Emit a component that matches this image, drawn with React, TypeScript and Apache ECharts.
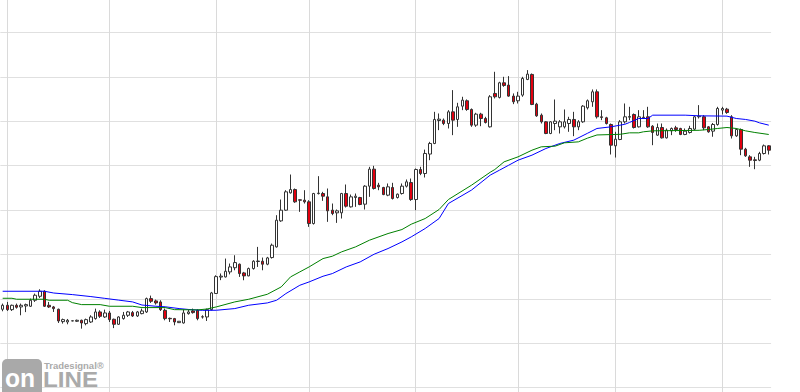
import React, { useEffect, useRef } from "react";
import * as echarts from "echarts";

// ---- data ----
const open = [
  27.64, 28.54, 27.56, 28.54, 28.17, 28.39, 28.32, 29.67, 30.57, 31.70,
  28.54, 28.17, 27.64, 24.86, 24.78, 25.01, 24.94, 25.16, 24.41, 24.78,
  25.54, 27.04, 25.91, 26.81, 25.39, 24.26, 25.54, 26.29, 26.89, 26.14,
  26.66, 27.04, 30.04, 29.52, 29.29, 27.41, 25.60, 25.54, 24.63, 24.56,
  26.66, 27.26, 27.41, 25.95, 25.91, 27.56, 31.20, 34.90, 34.93, 36.06,
  37.00, 37.79, 35.83, 35.16, 36.81, 38.40, 38.46, 37.79, 39.29, 41.69,
  47.55, 49.96, 53.86, 54.61, 52.30, 52.21, 51.84, 46.95, 53.70, 53.71,
  52.96, 49.96, 49.36, 49.36, 53.71, 50.71, 52.81, 52.81, 51.31, 55.37,
  59.20, 55.59, 55.07, 53.34, 55.07, 52.81, 53.71, 55.37, 56.19, 52.36,
  59.12, 58.22, 62.60, 64.98, 70.16, 70.24, 69.48, 72.11, 70.39, 73.39,
  74.60, 72.64, 69.11, 71.59, 70.61, 68.73, 76.25, 75.35, 78.65, 78.13,
  75.65, 74.60, 75.87, 79.40, 80.53, 73.84, 71.36, 69.86, 67.23, 69.48,
  68.73, 68.73, 69.48, 70.39, 68.73, 69.86, 73.02, 74.37, 76.62, 70.99,
  70.76, 69.26, 64.45, 65.88, 69.86, 70.90, 71.51, 68.73, 70.90, 70.99,
  68.88, 66.86, 68.58, 66.25, 67.83, 68.51, 68.36, 67.01, 67.46, 68.21,
  71.00, 70.99, 68.73, 67.76, 69.26, 72.50, 72.71, 70.99, 66.70, 68.13,
  63.70, 61.97, 61.30, 61.22, 62.72, 64.45
];
const close = [
  28.54, 27.56, 28.54, 28.09, 28.54, 28.69, 29.67, 30.80, 31.70, 28.32,
  28.17, 27.79, 25.01, 25.31, 25.16, 25.05, 25.16, 24.56, 25.31, 25.91,
  27.04, 26.06, 26.81, 25.31, 24.26, 25.91, 26.29, 27.04, 26.14, 27.04,
  27.26, 30.04, 29.44, 29.07, 27.56, 25.54, 25.50, 24.78, 24.94, 26.81,
  27.04, 26.89, 25.54, 25.90, 27.56, 31.32, 35.00, 35.10, 36.20, 37.18,
  38.16, 35.68, 35.16, 36.81, 38.46, 38.50, 37.79, 39.21, 42.07, 47.70,
  49.96, 54.09, 54.61, 51.84, 52.20, 51.84, 46.95, 53.71, 53.80, 53.11,
  49.81, 49.21, 49.81, 53.71, 50.86, 52.96, 53.11, 51.24, 55.37, 59.20,
  54.84, 55.22, 53.48, 55.22, 52.59, 53.56, 55.37, 56.34, 52.36, 59.12,
  58.22, 62.73, 64.98, 70.39, 70.46, 69.48, 72.11, 70.24, 73.24, 74.74,
  72.64, 69.11, 71.59, 70.61, 69.71, 75.50, 75.50, 78.65, 78.05, 75.65,
  74.37, 75.65, 79.63, 80.60, 73.77, 71.21, 69.86, 67.23, 69.86, 70.01,
  69.86, 69.86, 70.39, 68.73, 69.86, 73.39, 74.60, 76.62, 70.99, 70.85,
  69.48, 64.60, 65.95, 69.86, 70.99, 71.05, 68.58, 70.99, 70.80, 68.73,
  67.46, 68.58, 66.25, 67.98, 68.36, 68.13, 67.01, 67.76, 68.36, 70.99,
  71.15, 68.51, 67.61, 69.26, 72.86, 72.86, 71.96, 66.70, 68.13, 63.70,
  62.20, 61.22, 61.15, 62.72, 64.45, 63.47
];
const low = [
  27.19, 27.26, 27.26, 27.79, 26.29, 27.00, 28.17, 29.29, 30.19, 28.17,
  27.94, 27.04, 24.56, 24.41, 24.26, 24.95, 24.78, 23.28, 24.03, 24.56,
  25.31, 25.69, 25.69, 24.78, 23.40, 24.10, 25.31, 25.91, 25.91, 25.91,
  26.51, 26.81, 29.07, 28.69, 27.26, 25.16, 24.78, 24.03, 24.56, 24.41,
  26.44, 26.66, 25.16, 25.54, 25.01, 27.41, 31.10, 34.20, 34.80, 35.50,
  36.43, 34.93, 34.18, 35.08, 36.58, 37.18, 36.43, 37.56, 39.06, 41.54,
  47.33, 49.81, 53.71, 51.61, 49.58, 51.46, 46.20, 46.73, 53.50, 52.06,
  47.33, 48.83, 47.10, 48.08, 50.56, 50.56, 50.71, 51.08, 50.11, 52.96,
  54.61, 54.46, 53.34, 53.11, 52.36, 52.59, 53.48, 55.07, 52.06, 49.96,
  57.85, 57.32, 61.22, 64.83, 67.98, 69.11, 68.36, 66.86, 68.73, 72.49,
  72.34, 68.73, 68.73, 68.88, 69.48, 68.58, 75.12, 75.12, 77.75, 75.50,
  73.84, 73.99, 75.50, 79.25, 73.62, 70.99, 69.48, 67.08, 67.08, 67.98,
  67.23, 68.36, 67.61, 66.63, 67.98, 69.63, 72.64, 73.24, 70.60, 70.24,
  69.26, 62.50, 61.82, 65.73, 69.48, 70.24, 68.36, 68.58, 70.61, 68.51,
  64.60, 66.70, 66.10, 66.10, 66.86, 67.61, 66.86, 66.86, 67.23, 67.98,
  70.61, 67.98, 67.40, 66.50, 69.00, 71.51, 71.66, 66.10, 66.48, 62.35,
  61.97, 59.72, 59.19, 61.00, 62.50, 62.50
];
const high = [
  28.92, 29.29, 28.69, 28.92, 28.92, 28.92, 30.04, 31.17, 32.15, 31.92,
  29.29, 28.39, 27.79, 25.54, 25.46, 25.10, 25.31, 25.31, 25.54, 26.29,
  27.79, 27.41, 27.56, 27.26, 25.54, 26.06, 27.04, 27.26, 27.26, 27.26,
  27.79, 30.27, 30.72, 29.82, 29.67, 27.79, 25.76, 25.69, 25.00, 27.56,
  27.56, 27.79, 27.64, 26.29, 27.79, 31.55, 35.30, 35.70, 39.06, 37.94,
  39.81, 37.94, 36.06, 37.03, 38.69, 41.69, 39.29, 39.44, 42.44, 48.83,
  52.36, 54.46, 57.99, 54.84, 52.36, 54.46, 52.21, 53.86, 57.62, 54.09,
  54.84, 51.46, 50.11, 53.86, 55.74, 53.48, 53.71, 52.96, 55.59, 59.72,
  59.95, 56.12, 55.22, 55.97, 56.12, 53.71, 55.97, 56.87, 57.09, 59.35,
  59.72, 63.60, 65.35, 72.11, 71.74, 70.61, 72.49, 77.00, 74.14, 75.50,
  74.90, 72.87, 71.89, 71.89, 70.99, 75.87, 81.13, 78.88, 80.00, 80.15,
  76.25, 76.62, 80.00, 81.51, 80.75, 74.14, 71.74, 70.01, 70.01, 74.89,
  70.24, 72.64, 70.99, 72.11, 70.24, 73.62, 74.89, 77.15, 77.15, 72.49,
  70.99, 69.48, 67.61, 70.24, 73.99, 73.24, 71.74, 72.49, 72.49, 73.24,
  69.11, 69.48, 69.48, 68.36, 68.58, 68.96, 68.51, 68.36, 68.96, 71.21,
  73.62, 71.36, 68.90, 69.60, 73.24, 73.24, 73.00, 71.36, 68.36, 68.36,
  64.00, 62.35, 61.97, 63.10, 64.75, 64.60
];

// moving averages read at sampled bars: [bar index, value]
const maBlue: [number, number][] = [
  [0, 31.7], [9, 31.7], [11, 31.3], [15, 30.95], [19, 30.5], [22, 30.1],
  [25, 29.7], [28, 29.3], [30, 28.6], [33, 28.32], [35, 28.2], [38, 27.8],
  [40, 27.6], [43, 27.4], [46, 27.42], [50, 27.8], [53, 28.55], [57, 29.07],
  [59, 29.67], [61, 31.17], [64, 33.05], [66, 33.8], [69, 35.08], [71, 35.68],
  [74, 37.18], [77, 38.31], [80, 40.04], [83, 41.32], [86, 42.82], [88, 43.95],
  [91, 45.83], [94, 48.08], [96, 51.46], [101, 54.5], [105, 57.85], [107, 58.97],
  [109, 60.09], [111, 61.22], [114, 62.35], [117, 63.85], [120, 64.98],
  [123, 65.73], [126, 67.3], [128, 68.36], [131, 68.73], [134, 69.3],
  [135, 69.71], [137, 70.61], [139, 70.61], [140, 71.36], [147, 71.36],
  [150, 71.21], [156, 71.14], [158, 70.61], [160, 70.39], [162, 70.01],
  [163, 69.63], [165, 69.11]
];
const maGreen: [number, number][] = [
  [0, 30.12], [2, 30.12], [3, 29.9], [9, 29.9], [10, 29.67], [14, 29.67],
  [15, 29.14], [17, 28.69], [21, 28.69], [23, 28.32], [28, 28.32], [30, 28.02],
  [35, 28.02], [37, 27.56], [42, 27.5], [44, 27.7], [46, 28.17], [50, 29.3],
  [53, 29.9], [57, 31.02], [60, 32.68], [62, 34.93], [64, 36.06], [66, 37.18],
  [69, 39.06], [71, 39.59], [73, 40.57], [76, 41.69], [79, 43.2], [83, 44.7],
  [86, 45.6], [88, 46.8], [91, 48.08], [94, 50.11], [96, 52.36], [101, 55.6],
  [105, 58.5], [106, 59.12], [108, 60.85], [111, 61.97], [114, 63.47],
  [116, 64.23], [119, 64.38], [121, 65.13], [124, 65.35], [126, 66.2],
  [128, 66.9], [133, 67.05], [135, 67.38], [137, 67.38], [138, 67.61],
  [140, 67.83], [150, 67.95], [152, 68.13], [154, 68.36], [156, 68.58],
  [158, 68.36], [160, 67.83], [162, 67.46], [165, 67.01]
];

// bars where a new month begins (vertical grid lines)
const monthStarts = [1, 23, 46, 66, 89, 111, 132, 155];

const categories = open.map((_, i) => `D${i + 1}`);

const Y_MIN = 0;
const Y_MAX = 100;
const Y_INTERVAL = 10;

// the chart canvas is a little taller than the window and shifted up,
// so that the price grid lines fall where the reference has them
const SHIFT = 12;
const CHART_H = 444;

export default function App() {
  const ref = useRef<HTMLDivElement>(null);

  useEffect(() => {
    if (!ref.current) return;
    const chart = echarts.init(ref.current, undefined, { renderer: "svg" });
    const ohlc = open.map((o, i) => [o, close[i], low[i], high[i]]);

    chart.setOption({
      animation: false,
      backgroundColor: "#ffffff",
      grid: { left: 0.34, right: 28.92, top: 0, bottom: 0, containLabel: false },
      xAxis: {
        type: "category",
        data: categories,
        boundaryGap: true,
        axisLine: { show: false },
        axisTick: { show: false },
        axisLabel: { show: false },
        splitLine: { show: false },
      },
      yAxis: {
        type: "value",
        min: Y_MIN,
        max: Y_MAX,
        interval: Y_INTERVAL,
        axisLine: { show: false },
        axisTick: { show: false },
        axisLabel: { show: false },
        splitLine: { show: true, lineStyle: { color: "#e0e0e0", width: 1 } },
      },
      series: [
        {
          type: "custom",
          z: 1,
          silent: true,
          data: monthStarts.map((m) => [m]),
          encode: { x: 0 },
          renderItem: (params: any, api: any) => {
            const idx = api.value(0);
            const p1 = api.coord([idx, Y_MIN]);
            const p2 = api.coord([idx, Y_MAX]);
            const x = Math.round(p1[0] - 0.5) + 0.5;
            return {
              type: "line",
              shape: { x1: x, y1: p1[1], x2: x, y2: p2[1] },
              style: { stroke: "#dadada", lineWidth: 1 },
            };
          },
        },
        {
          type: "candlestick",
          z: 3,
          data: ohlc,
          barWidth: 3,
          itemStyle: {
            color: "#ffffff",
            color0: "#e2000f",
            borderColor: "#333333",
            borderColor0: "#333333",
            borderColorDoji: "#333333",
            borderWidth: 1,
          },
        },
        {
          type: "line",
          z: 4,
          data: maBlue,
          showSymbol: false,
          symbol: "none",
          lineStyle: { color: "#0000ff", width: 1 },
          itemStyle: { color: "#0000ff" },
        },
        {
          type: "line",
          z: 4,
          data: maGreen,
          showSymbol: false,
          symbol: "none",
          lineStyle: { color: "#008000", width: 1 },
          itemStyle: { color: "#008000" },
        },
      ],
      graphic: [
        {
          type: "rect",
          z: 10,
          shape: { x: 2, y: 359 + SHIFT, width: 40, height: 40, r: 5 },
          style: { fill: "#a9a9a9" },
        },
        {
          type: "text",
          z: 11,
          x: 5,
          y: 378 + SHIFT,
          scaleX: 0.95,
          style: {
            text: "on",
            font: 'bold 26px "Liberation Sans"',
            fill: "#ffffff",
            textVerticalAlign: "middle",
          },
        },
        {
          type: "text",
          z: 11,
          x: 43,
          y: 379 + SHIFT,
          scaleX: 1.1,
          style: {
            text: "LINE",
            font: 'bold 22px "Liberation Sans"',
            fill: "#aaaaaa",
            textVerticalAlign: "middle",
          },
        },
        {
          type: "text",
          z: 11,
          x: 44,
          y: 360 + SHIFT,
          style: {
            text: "Tradesignal®",
            font: 'bold 9.5px "Liberation Sans"',
            fill: "#aaaaaa",
            textVerticalAlign: "top",
          },
        },
      ],
    });

    return () => chart.dispose();
  }, []);

  return (
    <div
      style={{
        position: "absolute",
        left: 0,
        top: 0,
        width: 800,
        height: 392,
        overflow: "hidden",
        background: "#ffffff",
      }}
    >
      <div
        ref={ref}
        style={{ position: "absolute", left: 0, top: -SHIFT, width: 800, height: CHART_H }}
      />
    </div>
  );
}
